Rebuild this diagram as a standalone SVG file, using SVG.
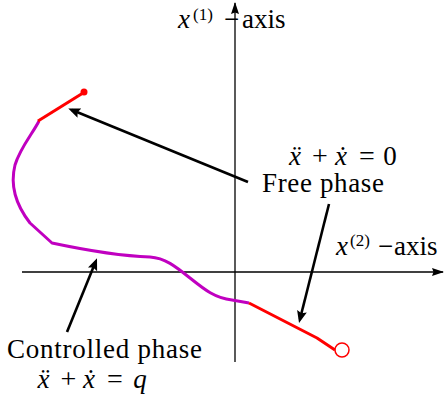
<svg xmlns="http://www.w3.org/2000/svg" width="445" height="399" viewBox="0 0 445 399">
<style>
text{font-family:'Liberation Serif','DejaVu Serif',serif;font-size:27px;fill:#000}
.i{font-style:italic}
.s{font-size:17px}
.m{text-anchor:middle}
.op{font-size:28px}
.ax{stroke:#000;stroke-width:1.3;fill:none}
.ar{stroke:#000;stroke-width:2.6;fill:none;marker-end:url(#ah)}
.mag{stroke:#c000c0;stroke-width:3;fill:none;stroke-linejoin:round}
.red{stroke:#f00;stroke-width:3;fill:none;stroke-linejoin:round}
</style>
<defs>
<marker id="ah" markerUnits="userSpaceOnUse" markerWidth="14" markerHeight="12" refX="8" refY="5" orient="auto">
<path d="M0,0 L12,5 L0,10 L2,5 z" fill="#000"/>
</marker>
<marker id="axh" markerUnits="userSpaceOnUse" markerWidth="14" markerHeight="10" refX="11" refY="4" orient="auto">
<path d="M0,0 L12,4 L0,8 L1.5,4 z" fill="#000"/>
</marker>
</defs>
<g id="axes">
<line class="ax" x1="235" y1="362" x2="235" y2="3" marker-end="url(#axh)"/>
<line class="ax" x1="22" y1="272" x2="443" y2="272" marker-end="url(#axh)"/>
</g>
<g id="trajectory">
<path class="mag" d="M39,121 C33,133 20,148 15,165 C10,185 16,205 30,223 L52,243 C85,250 120,256 150,257 C165,258 175,266 190,278 C205,290 215,298 232,300 L249,303"/>
<path class="red" d="M38,121 L83,93"/>
<circle cx="84" cy="92" r="3.5" fill="#f00"/>
<path class="red" d="M249,303 L317,338 L335,350"/>
<circle cx="342" cy="350" r="7" fill="none" stroke="#f00" stroke-width="1.5"/>
</g>
<g id="connectors">
<line class="ar" x1="248" y1="182" x2="72" y2="110"/>
<line class="ar" x1="67" y1="332" x2="95.5" y2="262"/>
<line class="ar" x1="329" y1="204" x2="300" y2="319"/>
</g>
<g id="label-x1">
<text class="i" x="178" y="28">x</text>
<text class="s" x="193" y="20">(1)</text>
<text x="224" y="28">−</text>
<text x="242" y="28">axis</text>
</g>
<g id="label-x2">
<text class="i" x="336" y="255">x</text>
<text class="s" x="350" y="246">(2)</text>
<text x="378" y="255">−</text>
<text x="394" y="255">axis</text>
</g>
<g id="free-phase">
<text class="i m" x="295" y="165">ẍ</text>
<text class="m op" x="320" y="165">+</text>
<text class="i m" x="341" y="165">ẋ</text>
<text class="m op" x="367" y="165">=</text>
<text class="m" x="390" y="165">0</text>
<text x="262" y="192" textLength="122">Free phase</text>
</g>
<g id="controlled-phase">
<text x="7" y="358" textLength="195">Controlled phase</text>
<text class="i m" x="43.5" y="388">ẍ</text>
<text class="m op" x="68.5" y="388">+</text>
<text class="i m" x="89" y="388">ẋ</text>
<text class="m op" x="115" y="388">=</text>
<text class="i m" x="140" y="388">q</text>
</g>
</svg>
